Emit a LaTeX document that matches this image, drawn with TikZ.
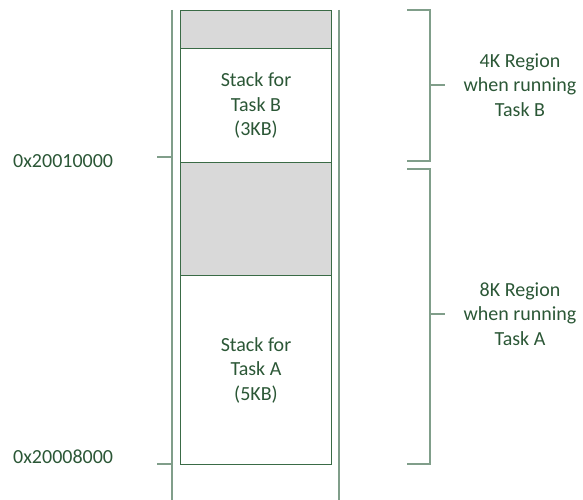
\documentclass[tikz,border=0pt]{standalone}
\usepackage{fontspec}
\setmainfont{Carlito}
\definecolor{txtgreen}{HTML}{2B5736}
\definecolor{boxgreen}{HTML}{3A6B46}
\definecolor{linegreen}{HTML}{809E8A}
\definecolor{fillgrey}{HTML}{D9D9D9}
\begin{document}
\begin{tikzpicture}[x=1bp,y=-1bp,
  mem/.style={draw=boxgreen, line width=1bp, minimum width=151bp, anchor=north west, inner sep=0pt, text=txtgreen, align=center, font=\fontsize{20bp}{24.5bp}\selectfont},
  freegrey/.style={mem, fill=fillgrey},
  rail/.style={draw=linegreen, line width=1.1bp},
  lbl/.style={text=txtgreen, align=center, font=\fontsize{20bp}{24.5bp}\selectfont, inner sep=0pt}]
\useasboundingbox (0,0) rectangle (583,500);
% rails
\coordinate (lt) at (172,10); \coordinate (lb) at (172,500);
\coordinate (rt) at (339,10); \coordinate (rb) at (339,500);
\draw[rail] (lt) -- (lb);
\draw[rail] (rt) -- (rb);
% memory blocks
\node[freegrey, minimum height=38bp] (gB) at (180,10) {};
\node[mem, minimum height=114bp] (sB) at (180,48) {Stack for\\Task B\\(3KB)};
\node[freegrey, minimum height=113bp] (gA) at (180,162) {};
\node[mem, minimum height=189bp] (sA) at (180,275) {Stack for\\Task A\\(5KB)};
% address ticks
\coordinate (t1a) at (157,157); \coordinate (t1b) at (172,157);
\coordinate (t2a) at (157,464); \coordinate (t2b) at (172,464);
\draw[rail] (t1a) -- (t1b);
\draw[rail] (t2a) -- (t2b);
\node[lbl, anchor=west] (a1) at (13,161) {0x20010000};
\node[lbl, anchor=west] (a2) at (13,457) {0x20008000};
% brackets
\coordinate (b1t) at (407,10); \coordinate (b1tc) at (430,10);
\coordinate (b1bc) at (430,161); \coordinate (b1b) at (407,161);
\coordinate (b1m) at (430,85); \coordinate (b1e) at (445,85);
\draw[rail] (b1t) -- (b1tc) -- (b1bc) -- (b1b);
\draw[rail] (b1m) -- (b1e);
\coordinate (b2t) at (407,169); \coordinate (b2tc) at (430,169);
\coordinate (b2bc) at (430,464); \coordinate (b2b) at (407,464);
\coordinate (b2m) at (430,314); \coordinate (b2e) at (445,314);
\draw[rail] (b2t) -- (b2tc) -- (b2bc) -- (b2b);
\draw[rail] (b2m) -- (b2e);
\node[lbl] (r1) at (520,85) {4K Region\\when running\\Task B};
\node[lbl] (r2) at (520,314) {8K Region\\when running\\Task A};
\end{tikzpicture}
\end{document}
